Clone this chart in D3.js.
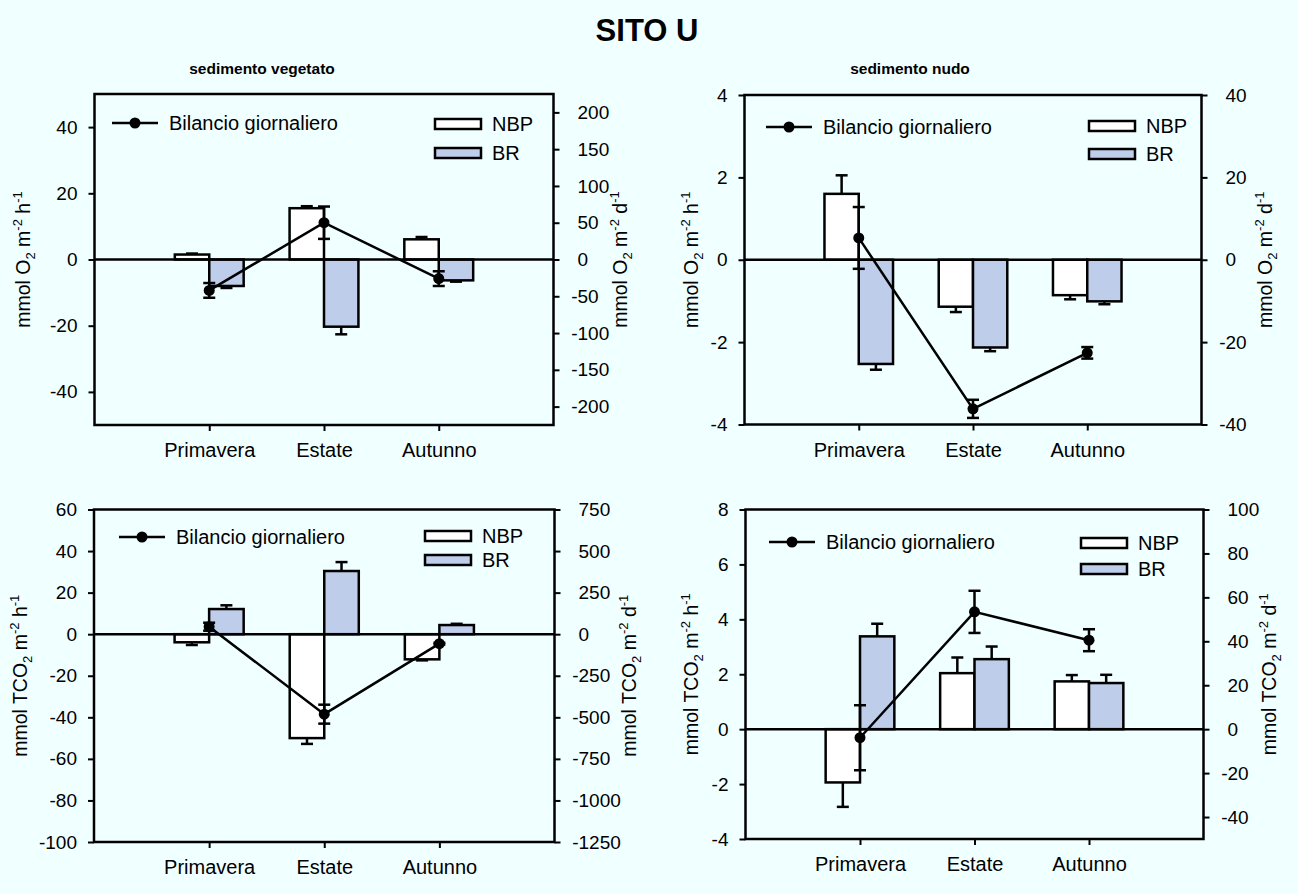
<!DOCTYPE html>
<html>
<head>
<meta charset="utf-8">
<script src="https://cdn.jsdelivr.net/npm/d3@7"></script>
<style>
  body { margin: 0; background: #F0FFFF; }
  svg { display: block; font-family: "Liberation Sans", Arial, Helvetica, sans-serif; }
</style>
</head>
<body>
<svg id="chart" width="1298" height="894"></svg>
<script>
// ---- data ----
const seasons = ["Primavera", "Estate", "Autunno"];

// O2 fluxes, vegetated sediment (hourly bars, daily balance line)
const o2VegNBP = [1.5, 15.5, 6.1];
const o2VegNBPErr = [0.3, 0.6, 0.7];
const o2VegBR = [-8.0, -20.3, -6.3];
const o2VegBRErr = [0.6, 2.3, 0.4];
const o2VegDaily = [-42, 50, -26];
const o2VegDailyErr = [10, 22, 10];

// O2 fluxes, bare sediment
const o2NudoNBP = [1.6, -1.14, -0.86];
const o2NudoNBPErr = [0.45, 0.13, 0.1];
const o2NudoBR = [-2.53, -2.13, -1.01];
const o2NudoBRErr = [0.14, 0.09, 0.07];
const o2NudoDaily = [5.3, -36.2, -22.6];
const o2NudoDailyErr = [7.5, 2.2, 1.4];

// TCO2 fluxes, vegetated sediment
const co2VegNBP = [-3.9, -50.0, -12.1];
const co2VegNBPErr = [1.3, 2.8, 0.5];
const co2VegBR = [12.1, 30.4, 4.4];
const co2VegBRErr = [1.8, 4.3, 0.6];
const co2VegDaily = [45, -481, -57];
const co2VegDailyErr = [24, 57, 5];

// TCO2 fluxes, bare sediment
const co2NudoNBP = [-1.94, 2.04, 1.74];
const co2NudoNBPErr = [0.89, 0.57, 0.23];
const co2NudoBR = [3.38, 2.55, 1.68];
const co2NudoBRErr = [0.46, 0.46, 0.3];
const co2NudoDaily = [-3.9, 53.4, 40.5];
const co2NudoDailyErr = [14.8, 9.6, 5];

// axis ticks
const o2VegTicksL = [-40, -20, 0, 20, 40];
const o2VegTicksR = [-200, -150, -100, -50, 0, 50, 100, 150, 200];
const o2NudoTicksL = [-4, -2, 0, 2, 4];
const o2NudoTicksR = [-40, -20, 0, 20, 40];
const co2VegTicksL = [-100, -80, -60, -40, -20, 0, 20, 40, 60];
const co2VegTicksR = [-1250, -1000, -750, -500, -250, 0, 250, 500, 750];
const co2NudoTicksL = [-4, -2, 0, 2, 4, 6, 8];
const co2NudoTicksR = [-40, -20, 0, 20, 40, 60, 80, 100];

// ---- styling ----
const BR_FILL = "#BECDEA";
const STROKE = 2.5;
const TICK_FONT = 19;
const TEXT_FONT = 20;

const labelO2h = [["mmol O", 0], ["2", -1], [" m", 0], ["-2", 1], [" h", 0], ["-1", 1]];
const labelO2d = [["mmol O", 0], ["2", -1], [" m", 0], ["-2", 1], [" d", 0], ["-1", 1]];
const labelCO2h = [["mmol TCO", 0], ["2", -1], [" m", 0], ["-2", 1], [" h", 0], ["-1", 1]];
const labelCO2d = [["mmol TCO", 0], ["2", -1], [" m", 0], ["-2", 1], [" d", 0], ["-1", 1]];

const panels = [
  { x0: 94.5, x1: 553.5, y0: 94, y1: 425,
    left: [-50, 50], right: [-225, 225], ticksL: o2VegTicksL, ticksR: o2VegTicksR,
    nbp: o2VegNBP, nbpErr: o2VegNBPErr, br: o2VegBR, brErr: o2VegBRErr,
    daily: o2VegDaily, dailyErr: o2VegDailyErr,
    labL: labelO2h, labR: labelO2d, labLx: 30, labRx: 627,
    leg: { lx: 112, ly: 123, bx: 435, nbpY: 119, brY: 148 } },
  { x0: 744.5, x1: 1201.5, y0: 95, y1: 424.5,
    left: [-4, 4], right: [-40, 40], ticksL: o2NudoTicksL, ticksR: o2NudoTicksR,
    nbp: o2NudoNBP, nbpErr: o2NudoNBPErr, br: o2NudoBR, brErr: o2NudoBRErr,
    daily: o2NudoDaily, dailyErr: o2NudoDailyErr,
    labL: labelO2h, labR: labelO2d, labLx: 698, labRx: 1272,
    leg: { lx: 766, ly: 127, bx: 1089, nbpY: 121, brY: 149 } },
  { x0: 94, x1: 554.5, y0: 509.5, y1: 842,
    left: [-100, 60], right: [-1250, 750], ticksL: co2VegTicksL, ticksR: co2VegTicksR,
    nbp: co2VegNBP, nbpErr: co2VegNBPErr, br: co2VegBR, brErr: co2VegBRErr,
    daily: co2VegDaily, dailyErr: co2VegDailyErr,
    labL: labelCO2h, labR: labelCO2d, labLx: 27, labRx: 636,
    leg: { lx: 119, ly: 537, bx: 425, nbpY: 531, brY: 555 } },
  { x0: 745.5, x1: 1203.5, y0: 509.5, y1: 839,
    left: [-4, 8], right: [-50, 100], ticksL: co2NudoTicksL, ticksR: co2NudoTicksR,
    nbp: co2NudoNBP, nbpErr: co2NudoNBPErr, br: co2NudoBR, brErr: co2NudoBRErr,
    daily: co2NudoDaily, dailyErr: co2NudoDailyErr,
    labL: labelCO2h, labR: labelCO2d, labLx: 698, labRx: 1276,
    leg: { lx: 769, ly: 542, bx: 1081, nbpY: 538, brY: 564 } }
];

const svg = d3.select("#chart");
svg.append("rect").attr("width", 1298).attr("height", 894).attr("fill", "#F0FFFF");

// titles
svg.append("text").attr("x", 647).attr("y", 41).attr("text-anchor", "middle")
  .attr("font-size", 31).attr("font-weight", "bold").text("SITO U");
svg.append("text").attr("x", 262).attr("y", 74).attr("text-anchor", "middle")
  .attr("font-size", 15.5).attr("font-weight", "bold").text("sedimento vegetato");
svg.append("text").attr("x", 910).attr("y", 74).attr("text-anchor", "middle")
  .attr("font-size", 15.5).attr("font-weight", "bold").text("sedimento nudo");

function axisTitle(g, parts, cx, cy) {
  const t = g.append("text")
    .attr("transform", `translate(${cx},${cy}) rotate(-90)`)
    .attr("text-anchor", "middle").attr("dy", "0.35em")
    .attr("font-size", 19.5);
  let shift = 0;
  parts.forEach(([s, kind]) => {
    const target = kind === -1 ? 5 : kind === 1 ? -8 : 0;
    t.append("tspan").attr("dy", target - shift)
      .attr("font-size", kind === 0 ? 19.5 : 13).text(s);
    shift = target;
  });
}

panels.forEach(p => {
  const g = svg.append("g");
  const x = d3.scalePoint().domain(seasons).range([p.x0, p.x1]).padding(1);
  const yL = d3.scaleLinear().domain(p.left).range([p.y1, p.y0]);
  const yR = d3.scaleLinear().domain(p.right).range([p.y1, p.y0]);
  const barW = x.step() * 0.3;
  const cap = 6;

  // bars: NBP left of the category tick, BR right of it
  const series = [
    { vals: p.nbp, errs: p.nbpErr, fill: "#FFFFFF", off: -barW },
    { vals: p.br, errs: p.brErr, fill: BR_FILL, off: 0 }
  ];
  series.forEach(s => {
    const rows = seasons.map((c, i) => ({ c, v: s.vals[i], e: s.errs[i] }));
    // one-sided error bars, pointing away from zero
    const eg = g.append("g").attr("stroke", "#000").attr("stroke-width", STROKE);
    rows.forEach(r => {
      const cx = x(r.c) + s.off + barW / 2;
      const tip = r.v + Math.sign(r.v) * r.e;
      eg.append("line").attr("x1", cx).attr("x2", cx).attr("y1", yL(r.v)).attr("y2", yL(tip));
      eg.append("line").attr("x1", cx - cap).attr("x2", cx + cap).attr("y1", yL(tip)).attr("y2", yL(tip));
    });
    g.append("g").selectAll("rect").data(rows).join("rect")
      .attr("x", d => x(d.c) + s.off)
      .attr("width", barW)
      .attr("y", d => Math.min(yL(d.v), yL(0)))
      .attr("height", d => Math.abs(yL(d.v) - yL(0)))
      .attr("fill", s.fill).attr("stroke", "#000").attr("stroke-width", STROKE);
  });

  // zero line
  g.append("line").attr("x1", p.x0).attr("x2", p.x1).attr("y1", yL(0)).attr("y2", yL(0))
    .attr("stroke", "#000").attr("stroke-width", STROKE);

  // daily balance on right axis
  const pts = seasons.map((c, i) => ({ c, v: p.daily[i], e: p.dailyErr[i] }));
  g.append("path").datum(pts)
    .attr("d", d3.line().x(d => x(d.c)).y(d => yR(d.v)))
    .attr("fill", "none").attr("stroke", "#000").attr("stroke-width", STROKE);
  const lg = g.append("g").attr("stroke", "#000").attr("stroke-width", STROKE);
  pts.forEach(d => {
    const cx = x(d.c);
    lg.append("line").attr("x1", cx).attr("x2", cx).attr("y1", yR(d.v - d.e)).attr("y2", yR(d.v + d.e));
    [d.v - d.e, d.v + d.e].forEach(v =>
      lg.append("line").attr("x1", cx - cap).attr("x2", cx + cap).attr("y1", yR(v)).attr("y2", yR(v)));
  });
  g.append("g").selectAll("circle").data(pts).join("circle")
    .attr("cx", d => x(d.c)).attr("cy", d => yR(d.v)).attr("r", 5.5).attr("fill", "#000");

  // frame
  g.append("rect").attr("x", p.x0).attr("y", p.y0)
    .attr("width", p.x1 - p.x0).attr("height", p.y1 - p.y0)
    .attr("fill", "none").attr("stroke", "#000").attr("stroke-width", STROKE);

  // axes
  const fmt = d => String(d);
  const ax = g.append("g").attr("transform", `translate(${p.x0},0)`)
    .call(d3.axisLeft(yL).tickValues(p.ticksL).tickFormat(fmt).tickSize(6).tickPadding(11));
  const axR = g.append("g").attr("transform", `translate(${p.x1},0)`)
    .call(d3.axisRight(yR).tickValues(p.ticksR).tickFormat(fmt).tickSize(6).tickPadding(18));
  const axB = g.append("g").attr("transform", `translate(0,${p.y1})`)
    .call(d3.axisBottom(x).tickSize(6).tickPadding(12));
  [ax, axR, axB].forEach(a => {
    a.select(".domain").remove();
    a.selectAll(".tick line").attr("stroke-width", 2);
    a.selectAll("text").attr("font-family", null).attr("fill", "#000");
  });
  ax.selectAll("text").attr("font-size", TICK_FONT);
  axR.selectAll("text").attr("font-size", TICK_FONT)
    .attr("x", d => 24 - (d < 0 ? TICK_FONT * 0.333 : 0));
  axB.selectAll("text").attr("font-size", TEXT_FONT);
  axB.attr("font-size", TEXT_FONT);

  // axis titles
  const cy = (p.y0 + p.y1) / 2;
  axisTitle(g, p.labL, p.labLx, cy);
  axisTitle(g, p.labR, p.labRx, cy);

  // legend
  const L = p.leg;
  g.append("line").attr("x1", L.lx).attr("x2", L.lx + 46).attr("y1", L.ly).attr("y2", L.ly)
    .attr("stroke", "#000").attr("stroke-width", STROKE);
  g.append("circle").attr("cx", L.lx + 23).attr("cy", L.ly).attr("r", 5.5).attr("fill", "#000");
  g.append("text").attr("x", L.lx + 57).attr("y", L.ly + 7).attr("font-size", TEXT_FONT)
    .text("Bilancio giornaliero");
  [{ y: L.nbpY, fill: "#FFFFFF", name: "NBP" }, { y: L.brY, fill: BR_FILL, name: "BR" }].forEach(e => {
    g.append("rect").attr("x", L.bx).attr("y", e.y).attr("width", 46).attr("height", 10)
      .attr("fill", e.fill).attr("stroke", "#000").attr("stroke-width", STROKE);
    g.append("text").attr("x", L.bx + 57).attr("y", e.y + 12).attr("font-size", TEXT_FONT).text(e.name);
  });
});
</script>
</body>
</html>
